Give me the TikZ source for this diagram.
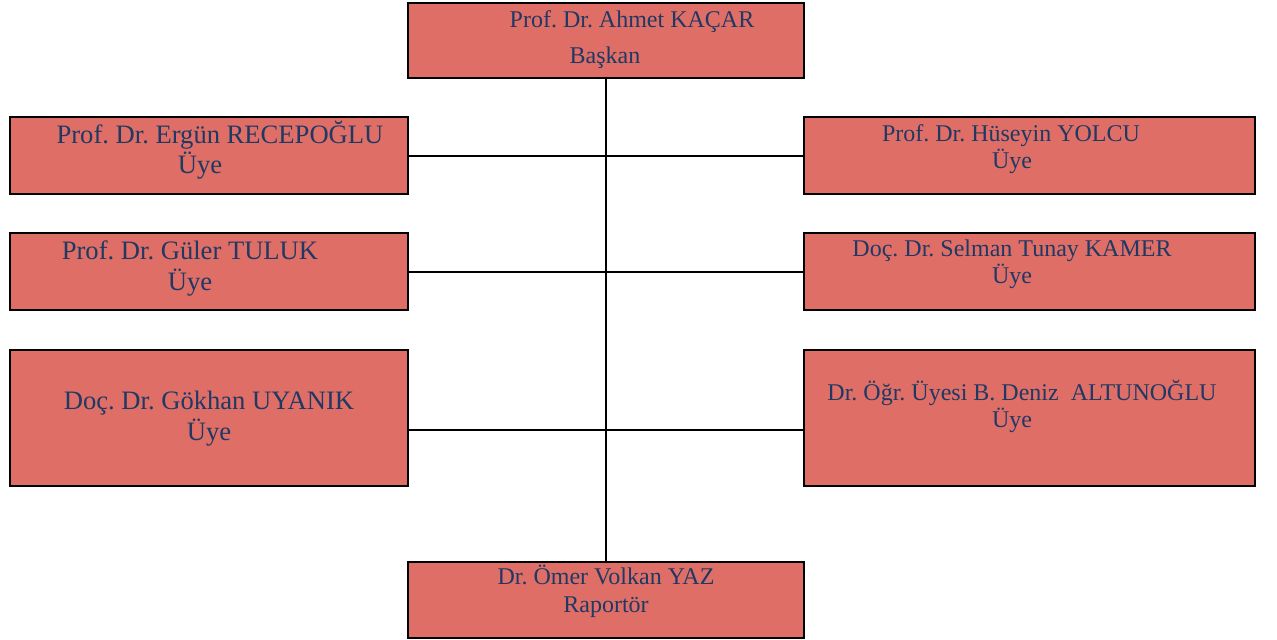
\documentclass[tikz,border=0pt]{standalone}
\usepackage{fontspec}
\setmainfont{Liberation Serif}
\usetikzlibrary{positioning}
\definecolor{boxred}{HTML}{DF6F66}
\definecolor{namenavy}{HTML}{1F3864}
\frenchspacing
\begin{document}
\begin{tikzpicture}[x=0.5pt,y=-0.5pt]
\tikzset{member/.style={draw=black,line width=1.3pt,fill=boxred,inner sep=0pt},
  small/.style={text=namenavy,font=\fontsize{12}{14}\selectfont,anchor=base,inner sep=0pt},
  big/.style={text=namenavy,font=\fontsize{13.3}{16}\selectfont,anchor=base,inner sep=0pt},
  link/.style={line width=1pt}}
\useasboundingbox (0,0) rectangle (1277,639);
% boxes
\node[member,minimum width=198pt,minimum height=37.5pt](baskan) at (606,40.5) {};
\node[member,minimum width=199pt,minimum height=38.5pt](l1) at (209,155.5) {};
\node[member,minimum width=225.5pt,minimum height=38.5pt](r1) at (1029.5,155.5) {};
\node[member,minimum width=199pt,minimum height=38.5pt](l2) at (209,271.5) {};
\node[member,minimum width=225.5pt,minimum height=38.5pt](r2) at (1029.5,271.5) {};
\node[member,minimum width=199pt,minimum height=68pt](l3) at (209,418) {};
\node[member,minimum width=225.5pt,minimum height=68pt](r3) at (1029.5,418) {};
\node[member,minimum width=198pt,minimum height=38pt](raportor) at (606,600) {};
% lines
\draw[link] (baskan.south) -- (raportor.north);
\draw[link] (l1.east) -- (r1.west);
\draw[link] (l2.east) -- (r2.west);
\draw[link] ([yshift=-6pt]l3.east) -- ([yshift=-6pt]r3.west);
% names
\node[small](baskan1) at (632,27.5) {Prof. Dr. Ahmet KAÇAR};
\node[small](baskan2) at (605,63) {Başkan};
\node[big](l1a) at (220,143) {Prof. Dr. Ergün RECEPOĞLU};
\node[big](l1b) at (200,173) {Üye};
\node[small](r1a) at (1011,141) {Prof. Dr. Hüseyin YOLCU};
\node[small](r1b) at (1012,168) {Üye};
\node[big](l2a) at (190,259) {Prof. Dr. Güler TULUK};
\node[big](l2b) at (190,290) {Üye};
\node[small](r2a) at (1012,256) {Doç. Dr. Selman Tunay KAMER};
\node[small](r2b) at (1012,283) {Üye};
\node[big](l3a) at (209,409) {Doç. Dr. Gökhan UYANIK};
\node[big](l3b) at (209,440) {Üye};
\node[small](r3a) at (1022,400) {Dr. Öğr. Üyesi B. Deniz \ ALTUNOĞLU};
\node[small](r3b) at (1012,427) {Üye};
\node[small](rap1) at (606,584) {Dr. Ömer Volkan YAZ};
\node[small](rap2) at (606,612) {Raportör};
\end{tikzpicture}
\end{document}
